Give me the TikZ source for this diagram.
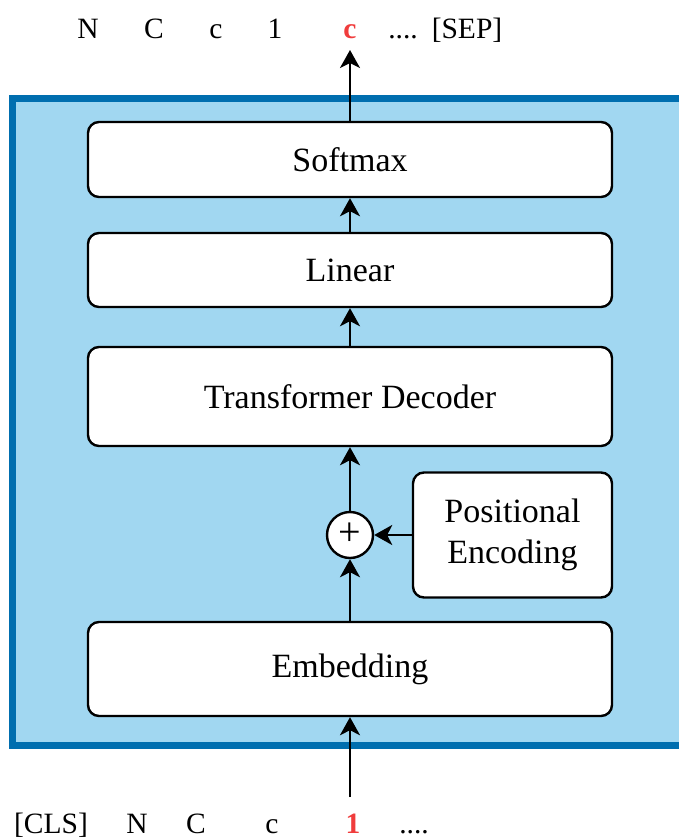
\documentclass[tikz,border=0pt]{standalone}
\usepackage{fontspec}
\setmainfont{Liberation Serif}
\usetikzlibrary{arrows.meta}
\definecolor{panelfill}{HTML}{A1D7F1}
\definecolor{panelline}{HTML}{006EAF}
\definecolor{tokred}{HTML}{F03C3C}
\tikzset{
  block/.style={draw=black, line width=2.4pt, fill=white, rounded corners=11pt,
    minimum width=524pt, align=center, font=\fontsize{34}{41}\selectfont, inner sep=0pt},
  flow/.style={line width=2.4pt, -{Stealth[length=18pt,width=20pt,inset=5pt]}},
  token/.style={font=\fontsize{29.5}{34}\selectfont, inner sep=0pt, anchor=base},
  hot/.style={token, text=tokred, font=\fontsize{29.5}{34}\selectfont\bfseries}
}
\begin{document}
\begin{tikzpicture}[x=1pt,y=-1pt]
  \useasboundingbox (0,0) rectangle (679,838);
  \begin{scope}
    \clip (0,0) rectangle (679,838);
    \draw[fill=panelfill, draw=panelline, line width=7pt] (12.5,98.5) rectangle (700,745.5);
  \end{scope}

  % stacked blocks
  \node[block, minimum height=75pt] (soft) at (350,159.5) {Softmax};
  \node[block, minimum height=74pt] (lin) at (350,270) {Linear};
  \node[block, minimum height=99pt] (dec) at (350,396.5) {Transformer Decoder};
  \node[block, minimum height=94pt] (emb) at (350,669) {Embedding};
  \node[block, minimum width=199pt, minimum height=125pt] (pe) at (512.5,535) {Positional\\Encoding};
  \node[draw=black, line width=2.4pt, fill=white, circle, minimum size=46pt, inner sep=0pt,
    font=\fontsize{40}{40}\selectfont] (add) at (350,535) {\raisebox{1pt}{+}};

  % flow through the model
  \coordinate (inp) at (350,797);
  \coordinate (outp) at (350,50);
  \draw[flow] (inp) -- (emb.south);
  \draw[flow] (emb.north) -- (add.south);
  \draw[flow] (pe.west) -- (add.east);
  \draw[flow] (add.north) -- (dec.south);
  \draw[flow] (dec.north) -- (lin.south);
  \draw[flow] (lin.north) -- (soft.south);
  \draw[flow] (soft.north) -- (outp);

  % output tokens
  \node[token] (o1) at (88,38) {N};
  \node[token] (o2) at (154,38) {C};
  \node[token] (o3) at (216,38) {c};
  \node[token] (o4) at (275,38) {1};
  \node[hot] (o5) at (350,38) {c};
  \node[token] (o6) at (403,38) {....};
  \node[token] (o7) at (467,38) {[SEP]};

  % input tokens
  \node[token] (i1) at (51,833) {[CLS]};
  \node[token] (i2) at (137,833) {N};
  \node[token] (i3) at (196,833) {C};
  \node[token] (i4) at (272,833) {c};
  \node[hot] (i5) at (353,833) {1};
  \node[token] (i6) at (414,833) {....};
\end{tikzpicture}
\end{document}
